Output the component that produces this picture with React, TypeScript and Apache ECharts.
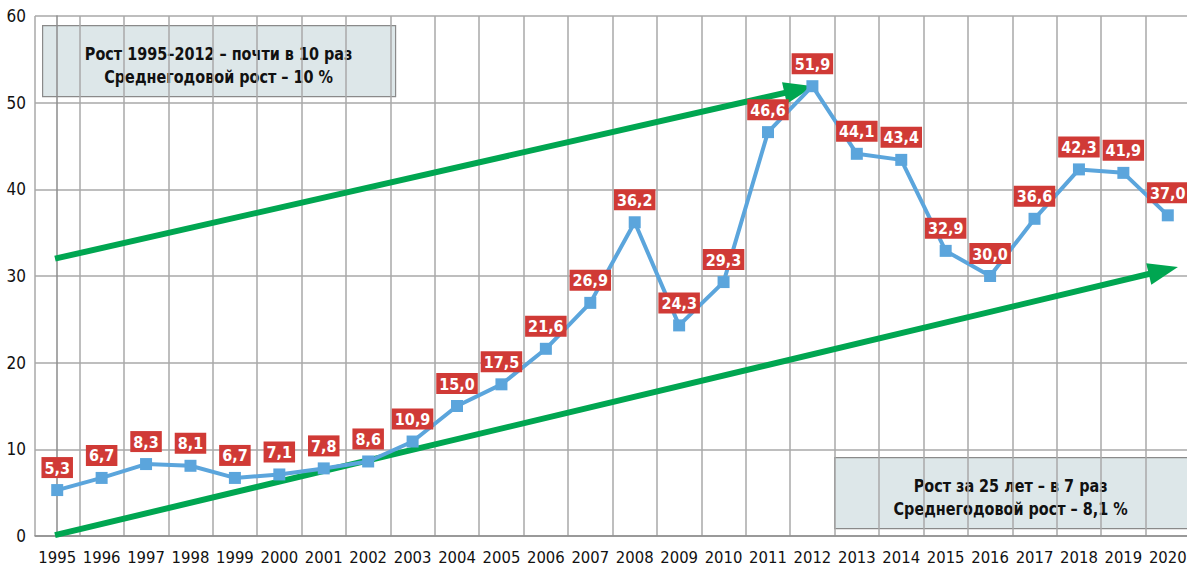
import React, { useEffect, useRef } from "react";
import * as echarts from "echarts";

const years = ["1995","1996","1997","1998","1999","2000","2001","2002","2003","2004","2005","2006","2007","2008","2009","2010","2011","2012","2013","2014","2015","2016","2017","2018","2019","2020"];
const values = [5.3, 6.7, 8.3, 8.1, 6.7, 7.1, 7.8, 8.6, 10.9, 15.0, 17.5, 21.6, 26.9, 36.2, 24.3, 29.3, 46.6, 51.9, 44.1, 43.4, 32.9, 30.0, 36.6, 42.3, 41.9, 37.0];
const yTicks = [0, 10, 20, 30, 40, 50, 60];
// trend arrows: [x position in category index units, value]
const arrowUpper = [[-0.05, 32.0], [16.7, 51.5]];
const arrowLower = [[-0.05, 0.1], [24.9, 30.63]];
const boxTopText = ["Рост 1995–2012 – почти в 10 раз", "Среднегодовой рост – 10 %"];
const boxBottomText = ["Рост за 25 лет – в 7 раз", "Среднегодовой рост – 8,1 %"];

const FONT = "'DejaVu Sans Condensed', 'Liberation Sans Narrow', 'Roboto', sans-serif";
const GREEN = "#00a651";
const BLUE = "#5ba5dc";
const RED = "#d03a36";

export default function App() {
  const ref = useRef<HTMLDivElement>(null);
  useEffect(() => {
    if (!ref.current) return;
    const chart = echarts.init(ref.current, undefined, { renderer: "svg" });
    const arrowLine = (pts: number[][]) => ({
      type: "line",
      xAxisIndex: 1,
      data: [],
      silent: true,
      markLine: {
        silent: true,
        symbol: ["none", "triangle"],
        symbolSize: [22, 30],
        label: { show: false },
        lineStyle: { color: GREEN, width: 6, type: "solid" },
        itemStyle: { color: GREEN },
        data: [[{ coord: pts[0] }, { coord: pts[1] }]],
        z: 3,
      },
    });
    const boxText = (lines: string[]) => ({
      type: "text",
      x: 176,
      y: 40,
      scaleX: 0.89,
      style: { text: lines.join("\n"), fill: "#111", font: `bold 18px ${FONT}`, align: "center", verticalAlign: "middle", lineHeight: 23 },
    });
    chart.setOption({
      animation: false,
      grid: { left: 35, right: 0, top: 16, bottom: 32, containLabel: false },
      xAxis: [
        {
          type: "category",
          data: years,
          boundaryGap: true,
          axisLine: { show: true, lineStyle: { color: "#8c8c8c", width: 1.5 } },
          axisTick: { show: false },
          splitLine: { show: true, lineStyle: { color: "#a8a8a8", width: 1.5 } },
          axisLabel: { color: "#111", fontFamily: FONT, fontSize: 16.5, margin: 13, interval: 0 },
        },
        { type: "value", min: -0.5, max: 25.5, show: false },
      ],
      yAxis: {
        type: "value",
        min: 0,
        max: 60,
        interval: 10,
        axisLine: { show: true, lineStyle: { color: "#8c8c8c", width: 1.5 } },
        axisTick: { show: false },
        splitLine: { show: true, lineStyle: { color: "#a8a8a8", width: 1.5 } },
        axisLabel: {
          color: "#111", fontFamily: FONT, fontSize: 17, margin: 9,
          formatter: (v: number) => (yTicks.includes(v) ? String(v) : ""),
        },
      },
      series: [
        arrowLine(arrowUpper),
        arrowLine(arrowLower),
        {
          type: "line",
          data: values,
          z: 5,
          symbol: "rect",
          symbolSize: 12,
          lineStyle: { color: BLUE, width: 4 },
          itemStyle: { color: BLUE },
          label: {
            show: true,
            position: "top",
            distance: 6,
            formatter: (p: any) => Number(p.value).toFixed(1).replace(".", ","),
            backgroundColor: RED,
            color: "#fff",
            fontFamily: FONT,
            fontWeight: "bold",
            fontSize: 16,
            padding: [3, 3, 2, 3],
          },
        },
      ],
      graphic: [
        {
          type: "group",
          left: 42,
          top: 25,
          children: [
            { type: "rect", shape: { x: 0, y: 0, width: 353, height: 71 }, style: { fill: "#dde7e9", stroke: "#8a8a8a", lineWidth: 1.2 } },
            boxText(boxTopText),
          ],
        },
        {
          type: "group",
          left: 834,
          top: 457,
          children: [
            { type: "rect", shape: { x: 0, y: 0, width: 360, height: 71 }, style: { fill: "#dde7e9", stroke: "#8a8a8a", lineWidth: 1.2 } },
            boxText(boxBottomText),
          ],
        },
      ],
    });
    return () => chart.dispose();
  }, []);
  return (
    <div style={{ position: "fixed", left: 0, top: 0, width: 1187, height: 568, overflow: "hidden", background: "#fff" }}>
      <div ref={ref} style={{ width: 1190, height: 568 }} />
    </div>
  );
}
